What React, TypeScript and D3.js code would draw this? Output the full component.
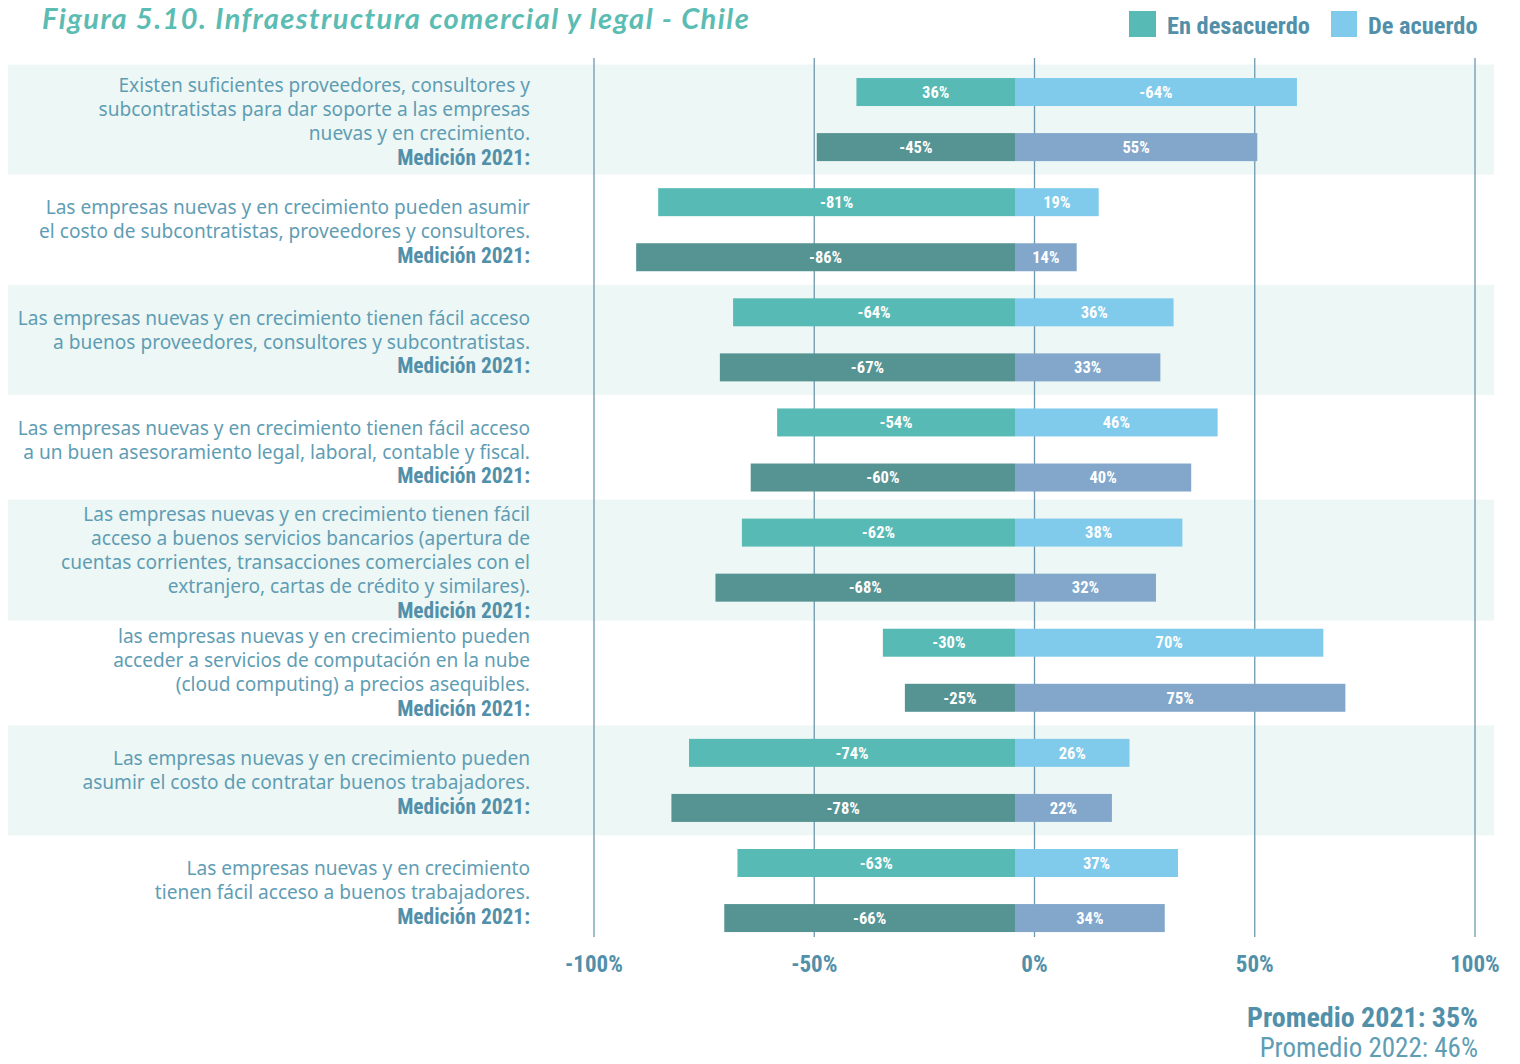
import React from "react";
import * as d3 from "d3";

const questions: string[][] = [
  ["Existen suficientes proveedores, consultores y", "subcontratistas para dar soporte a las empresas", "nuevas y en crecimiento."],
  ["Las empresas nuevas y en crecimiento pueden asumir", "el costo de subcontratistas, proveedores y consultores."],
  ["Las empresas nuevas y en crecimiento tienen fácil acceso", "a buenos proveedores, consultores y subcontratistas."],
  ["Las empresas nuevas y en crecimiento tienen fácil acceso", "a un buen asesoramiento legal, laboral, contable y fiscal."],
  ["Las empresas nuevas y en crecimiento tienen fácil", "acceso a buenos servicios bancarios (apertura de", "cuentas corrientes, transacciones comerciales con el", "extranjero, cartas de crédito y similares)."],
  ["las empresas nuevas y en crecimiento pueden", "acceder a servicios de computación en la nube", "(cloud computing) a precios asequibles."],
  ["Las empresas nuevas y en crecimiento pueden", "asumir el costo de contratar buenos trabajadores."],
  ["Las empresas nuevas y en crecimiento", "tienen fácil acceso a buenos trabajadores."],
];
const medicionLabel = "Medición 2021:";

const disagree2022 = [-36, -81, -64, -54, -62, -30, -74, -63];
const agree2022 = [64, 19, 36, 46, 38, 70, 26, 37];
const disagree2021 = [-45, -86, -67, -60, -68, -25, -78, -66];
const agree2021 = [55, 14, 33, 40, 32, 75, 22, 34];

const disagreeLabels2022 = ["36%", "-81%", "-64%", "-54%", "-62%", "-30%", "-74%", "-63%"];
const agreeLabels2022 = ["-64%", "19%", "36%", "46%", "38%", "70%", "26%", "37%"];
const disagreeLabels2021 = ["-45%", "-86%", "-67%", "-60%", "-68%", "-25%", "-78%", "-66%"];
const agreeLabels2021 = ["55%", "14%", "33%", "40%", "32%", "75%", "22%", "34%"];

const tickValues = [-100, -50, 0, 50, 100];
const tickLabels = ["-100%", "-50%", "0%", "50%", "100%"];

const legendLabels = ["En desacuerdo", "De acuerdo"];
const titleText = "Figura 5.10. Infraestructura comercial y legal - Chile";
const promedioLines = ["Promedio 2021: 35%", "Promedio 2022: 46%"];

const C_DIS22 = "#58bab4";
const C_AGR22 = "#80cbec";
const C_DIS21 = "#569393";
const C_AGR21 = "#82a7cb";
const C_BAND = "#edf7f5";
const C_TEXT = "#5f9db4";
const C_TEXT_B = "#5290aa";
const C_GRID = "#6f98ae";
const C_TITLE = "#5bbcb3";

const COND = "'Liberation Sans Narrow', 'Roboto Condensed', 'DejaVu Sans Condensed', sans-serif";
const REG = "'Noto Sans', 'Open Sans', sans-serif";

export default function App() {
  const W = 1520, H = 1064;
  const xGrid = d3.scaleLinear().domain([-100, 100]).range([594, 1475]);
  const xBar = d3.scaleLinear().domain([-100, 100]).range([574.5, 1455.5]);
  const yBar = d3
    .scaleBand<number>()
    .domain(d3.range(16))
    .range([64.5, 945.6])
    .paddingInner(0.4916)
    .paddingOuter(0.2458);
  const bw = yBar.bandwidth();

  const groups = questions.map((lines, g) => {
    const top = yBar(2 * g)!;
    const bot = yBar(2 * g + 1)! + bw;
    const center = (top + bot) / 2;
    const allLines = [...lines, medicionLabel];
    const bandH = Math.max(110, allLines.length * 24 + 1);
    return { g, center, allLines, bandTop: center - bandH / 2, bandH };
  });

  const bars: { y: number; v: number; color: string; label: string }[] = [];
  questions.forEach((_, g) => {
    bars.push({ y: yBar(2 * g)!, v: disagree2022[g], color: C_DIS22, label: disagreeLabels2022[g] });
    bars.push({ y: yBar(2 * g)!, v: agree2022[g], color: C_AGR22, label: agreeLabels2022[g] });
    bars.push({ y: yBar(2 * g + 1)!, v: disagree2021[g], color: C_DIS21, label: disagreeLabels2021[g] });
    bars.push({ y: yBar(2 * g + 1)!, v: agree2021[g], color: C_AGR21, label: agreeLabels2021[g] });
  });

  return (
    <svg width={W} height={H} style={{ position: "absolute", left: 0, top: 0, display: "block", background: "#fff" }}>
      <text x={42} y={29} fill={C_TITLE} fontFamily="Lato, 'Noto Sans', sans-serif" fontStyle="italic" fontWeight={700} fontSize={29} letterSpacing={1.45}>
        {titleText}
      </text>

      {/* legend */}
      <rect x={1129} y={11} width={27} height={26} fill={C_DIS22} />
      <text x={1167} y={25} dy="0.35em" fill={C_TEXT_B} fontFamily={COND} fontWeight={700} fontSize={24.4}>{legendLabels[0]}</text>
      <rect x={1331} y={11} width={26} height={26} fill={C_AGR22} />
      <text x={1368} y={25} dy="0.35em" fill={C_TEXT_B} fontFamily={COND} fontWeight={700} fontSize={24.4}>{legendLabels[1]}</text>

      {/* bands */}
      {groups.filter((d) => d.g % 2 === 0).map((d) => (
        <rect key={"b" + d.g} x={8} y={d.bandTop} width={1486} height={d.bandH} fill={C_BAND} />
      ))}

      {/* gridlines */}
      {tickValues.map((t) => (
        <line key={"g" + t} x1={xGrid(t)} x2={xGrid(t)} y1={58} y2={937} stroke={C_GRID} strokeWidth={1.3} />
      ))}

      {/* bars */}
      {bars.map((b, i) => {
        const x0 = Math.min(xBar(0), xBar(b.v));
        const w = Math.abs(xBar(b.v) - xBar(0));
        return (
          <g key={"bar" + i}>
            <rect x={x0} y={b.y} width={w} height={bw} fill={b.color} />
            <text x={x0 + w / 2} y={b.y + bw / 2} dy="0.35em" textAnchor="middle" fill="#fff" fontFamily={COND} fontWeight={700} fontSize={16.5}>
              {b.label}
            </text>
          </g>
        );
      })}

      {/* question labels */}
      {groups.map((d) => (
        <g key={"q" + d.g}>
          {d.allLines.map((line, i) => {
            const n = d.allLines.length;
            const cy = d.center + 2 + (i - (n - 1) / 2) * 24;
            const isLast = i === n - 1;
            return (
              <text
                key={i}
                x={530}
                y={cy}
                dy="0.35em"
                textAnchor="end"
                fill={isLast ? C_TEXT_B : C_TEXT}
                fontFamily={isLast ? COND : REG}
                fontWeight={isLast ? 700 : 400}
                fontSize={isLast ? 21.4 : 19.1}
              >
                {line}
              </text>
            );
          })}
        </g>
      ))}

      {/* tick labels */}
      {tickValues.map((t, i) => (
        <text key={"t" + t} x={xGrid(t)} y={964} dy="0.35em" textAnchor="middle" fill={C_TEXT_B} fontFamily={COND} fontWeight={700} fontSize={23}>
          {tickLabels[i]}
        </text>
      ))}

      {/* promedio */}
      <text x={1478} y={1017} dy="0.35em" textAnchor="end" fill={C_TEXT_B} fontFamily={COND} fontWeight={700} fontSize={28}>
        {promedioLines[0]}
      </text>
      <text x={1478} y={1048} dy="0.35em" textAnchor="end" fill={C_TEXT} fontFamily={COND} fontWeight={400} fontSize={27}>
        {promedioLines[1]}
      </text>
    </svg>
  );
}
